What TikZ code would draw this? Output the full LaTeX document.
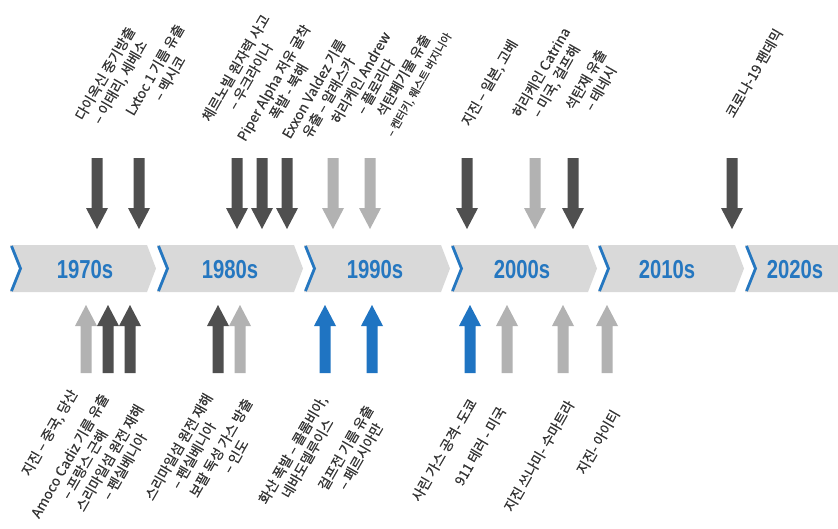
\documentclass[tikz,border=0pt]{standalone}
\usepackage{fontspec}
\setmainfont{Liberation Sans}
\newfontfamily\krfont[FakeBold=0.4]{Noto Sans CJK KR}
\newfontfamily\yrfont[FakeStretch=0.78]{Liberation Sans}
\definecolor{bandgrey}{HTML}{D9D9D9}
\definecolor{tlblue}{HTML}{2577C0}
\definecolor{dkarrow}{HTML}{4F4F4F}
\definecolor{ltarrow}{HTML}{B2B2B2}
\definecolor{bluearrow}{HTML}{1F74C2}
\definecolor{lblgrey}{HTML}{333333}
\newcommand\DnArr[2]{\fill[#2] (#1-5.5,158) -- (#1+5.5,158) -- (#1+5.5,208) -- (#1+11,208) -- (#1,229) -- (#1-11,208) -- (#1-5.5,208) -- cycle;}
\newcommand\UpArr[2]{\fill[#2] (#1-5.5,373) -- (#1+5.5,373) -- (#1+5.5,326) -- (#1+11,326) -- (#1,305) -- (#1-11,326) -- (#1-5.5,326) -- cycle;}
\begin{document}
\begin{tikzpicture}[x=1pt,y=-1pt,
  lbl/.style={rotate=60, align=center, text=lblgrey, inner sep=0pt,
    font=\krfont\fontsize{13.8}{17}\selectfont},
  yearlbl/.style={text=tlblue, inner sep=0pt,
    font=\yrfont\bfseries\fontsize{26}{26}\selectfont},
  seg/.style={fill=bandgrey},
  notch/.style={draw=tlblue, line width=2.8pt, line join=miter}]
\useasboundingbox[fill=white] (0,0) rectangle (838,528);
% band
\foreach \i in {0,...,4}{
  \pgfmathsetmacro\L{10+147*\i}
  \fill[seg] (\L,245) -- (\L+137,245) -- (\L+146,268.5) -- (\L+137,292) -- (\L,292) -- (\L+10,268.5) -- cycle;
  \draw[notch] (\L+1.5,246) -- (\L+10.5,268.5) -- (\L+1.5,291);
}
\fill[seg] (745,245) -- (838,245) -- (838,292) -- (745,292) -- (755,268.5) -- cycle;
\draw[notch] (746.5,246) -- (755.5,268.5) -- (746.5,291);
% years
\node[yearlbl] (y70) at (85,269.5) {1970s};
\node[yearlbl] (y80) at (230,269.5) {1980s};
\node[yearlbl] (y90) at (375,269.5) {1990s};
\node[yearlbl] (y00) at (522,269.5) {2000s};
\node[yearlbl] (y10) at (667,269.5) {2010s};
\node[yearlbl] (y20) at (795,269.5) {2020s};
% down arrows
\foreach \x/\c in {97/dkarrow,139/dkarrow,237/dkarrow,262/dkarrow,287/dkarrow,333/ltarrow,370/ltarrow,467/dkarrow,535/ltarrow,573/dkarrow,732/dkarrow}{\DnArr{\x}{\c}}
% up arrows
\foreach \x/\c in {86/ltarrow,108/dkarrow,130/dkarrow,218/dkarrow,240/ltarrow,325/bluearrow,372/bluearrow,470/bluearrow,507/ltarrow,563/ltarrow,607/ltarrow}{\UpArr{\x}{\c}}
% top labels
\node[lbl] (t1) at (113,78) {다이옥신 중기방출\\– 이태리, 세베소};
\node[lbl] (t2) at (162,74) {Lxtoc 1 기름 유출\\– 멕시코};
\node[lbl] (t3) at (243,72) {체르노빌 원자력 사고\\– 우크라이나};
\node[lbl] (t4) at (281,87) {Piper Alpha 저유 굴착\\폭발 - 북해};
\node[lbl] (t5) at (321,93) {Exxon Valdez 기름\\유출 – 알래스카};
\node[lbl] (t6) at (368,82) {허리케인 Andrew\\– 플로리다};
\node[lbl] (t7) at (411,80) {석탄폐기물 유출\\{\fontsize{11}{13}\selectfont – 켄터키, 웨스트 버지니아}};
\node[lbl] (t8) at (490,83) {지진 – 일본, 고베};
\node[lbl] (t9) at (549,77) {허리케인 Catrina\\– 미국, 걸프해};
\node[lbl] (t10) at (593,84) {석탄재 유출\\– 테네시};
\node[lbl] (t11) at (754,73) {코로나-19 팬데믹};
% bottom labels
\node[lbl] (b1) at (50,433) {지진 – 중국, 당산};
\node[lbl] (b2) at (77,460) {Amoco Cadiz 기름 유출\\– 프랑스 근해};
\node[lbl] (b3) at (117,462) {스리마일섬 원전 재해\\– 펜실베니아};
\node[lbl] (b4) at (186,451) {스리마일섬 원전 재해\\– 펜실베니아};
\node[lbl] (b5) at (228,452) {보팔 독성 가스 방출\\– 인도};
\node[lbl] (b6) at (300,454) {화산 폭발 – 콜롬비아,\\네바도델루이스};
\node[lbl] (b7) at (353,452) {걸프전 기름 유출\\– 페르시아만};
\node[lbl] (b8) at (444,450) {사린 가스 공격- 도쿄};
\node[lbl] (b9) at (480,446) {911 테러 - 미국};
\node[lbl] (b10) at (539,456) {지진 쓰나미- 수마트라};
\node[lbl] (b11) at (598,442) {지진- 아이티};
\end{tikzpicture}
\end{document}
